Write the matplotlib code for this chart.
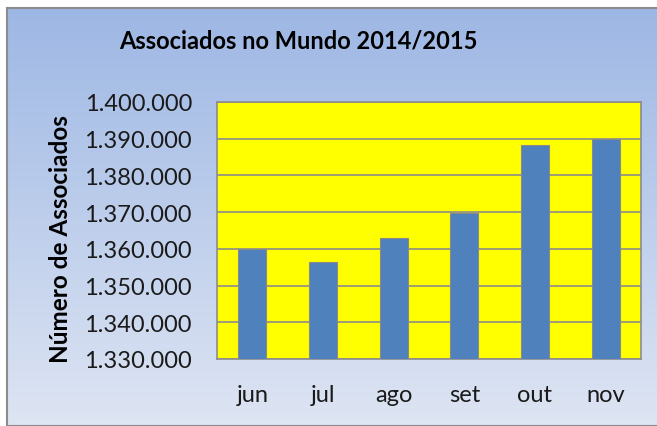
import matplotlib.pyplot as plt
from matplotlib.ticker import FuncFormatter
import numpy as np

plt.rcParams['font.family'] = ['Lato', 'DejaVu Sans']

# dados
meses = ['jun', 'jul', 'ago', 'set', 'out', 'nov']
associados = [1360000, 1356400, 1363000, 1369900, 1388200, 1389900]
titulo = 'Associados no Mundo 2014/2015'
rotulo_y = 'Número de Associados'

fig = plt.figure(figsize=(6.57, 4.27), dpi=100)
fig.patch.set_facecolor('white')

# fundo em degradê
bg = fig.add_axes([0.0107, 0, 1, 1 - 9 / 427])
top = np.array([157, 183, 228]) / 255
bottom = np.array([222, 229, 243]) / 255
t = np.linspace(0, 1, 256)[:, None]
grad = top * (1 - t) + bottom * t
bg.imshow(grad[:, None, :], aspect='auto', extent=[0, 1, 0, 1])
bg.set_xlim(0, 1)
bg.set_ylim(0, 1)
bg.set_xticks([])
bg.set_yticks([])
bg.spines['right'].set_visible(False)
for s in ['left', 'top', 'bottom']:
    bg.spines[s].set_color('#8c8c8c')
    bg.spines[s].set_linewidth(1.5)

ax = fig.add_axes([217 / 657, 1 - 360 / 427, 424 / 657, 257 / 427])
ax.set_facecolor('#ffff00')
x = np.arange(len(meses))
ax.bar(x, associados, width=0.4, color='#4f81bd', edgecolor='#8a8a8a',
       linewidth=0.8, zorder=3)
ax.set_ylim(1330000, 1400000)
ax.set_xlim(-0.5, len(meses) - 0.5)
ax.set_yticks(np.arange(1330000, 1400001, 10000))
ax.yaxis.set_major_formatter(FuncFormatter(lambda v, p: f'{int(v):,}'.replace(',', '.')))
ax.set_xticks(x)
ax.set_xticklabels(meses)
ax.grid(axis='y', color='#8c8c8c', linewidth=1.2, zorder=1)
ax.tick_params(axis='both', length=0, labelsize=17, colors='#1a1a1a')
ax.tick_params(axis='y', pad=18)
ax.tick_params(axis='x', pad=18)
for s in ax.spines.values():
    s.set_color('#8c8c8c')
    s.set_linewidth(1.2)

fig.text(298 / 657, 1 - 41 / 427, titulo, ha='center', va='center',
         fontsize=17, fontweight='bold', color='black')
fig.text(60 / 657, 1 - 239 / 427, rotulo_y, ha='center', va='center',
         rotation=90, fontsize=17.5, fontweight='bold', color='black')

fig.savefig('out.png', dpi=100)
